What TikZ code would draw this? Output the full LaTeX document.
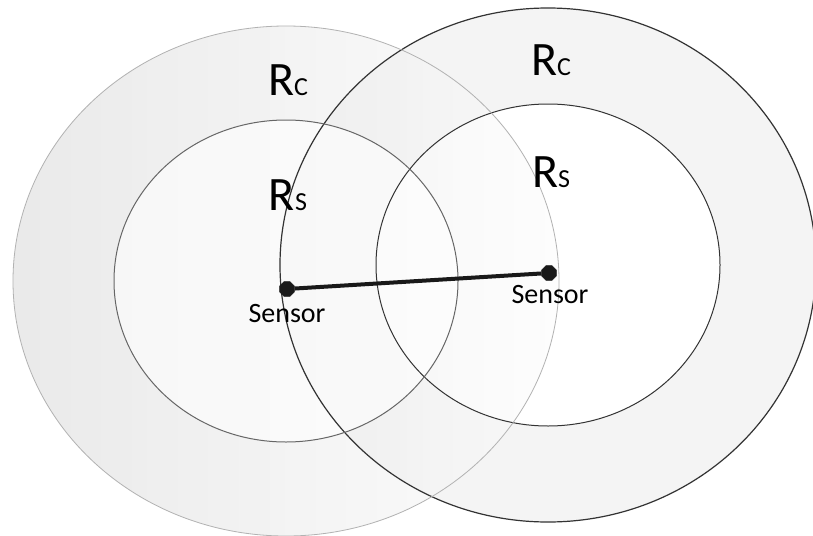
\documentclass[tikz,border=0pt]{standalone}
\usepackage{fontspec}
\setmainfont{Carlito}
\usetikzlibrary{shapes.geometric, positioning}
\tikzstyle{sensor} = [regular polygon, regular polygon sides=8, fill=black!90, draw=black!90, inner sep=0pt, minimum size=16pt]
\tikzstyle{link} = [draw, line width=4pt, black!90]
\tikzstyle{bigtext} = [anchor=base, inner sep=0pt, font=\fontsize{48}{56}\selectfont]
\tikzstyle{smalltext} = [anchor=base, inner sep=0pt, font=\fontsize{28}{32}\selectfont]
\newcommand{\subc}[1]{{\fontsize{26}{30}\selectfont #1}}

\begin{document}
\begin{tikzpicture}[x=1pt, y=-1pt]
  \useasboundingbox[fill=white] (0,0) rectangle (813,535);

  % Centres of the two ranges
  \coordinate (cl) at (286, 281);
  \coordinate (cr) at (548, 265);

  % Right sensor: communication and sensing range
  \fill[gray!9] (cr) ellipse [x radius=268, y radius=257];
  \fill[white] (cr) ellipse [x radius=172, y radius=161];

  % Left sensor: drawn over it, half transparent
  \shade[left color=gray!30, right color=gray!2, fill opacity=0.55]
    (cl) ellipse [x radius=273, y radius=255];
  \fill[white, fill opacity=0.6] (cl) ellipse [x radius=172, y radius=161];

  % Outlines
  \draw[black!80, line width=1.2pt] (cr) ellipse [x radius=268, y radius=257];
  \draw[black!80, line width=1pt] (cr) ellipse [x radius=172, y radius=161];
  \draw[black!30, line width=0.8pt] (cl) ellipse [x radius=273, y radius=255];
  \draw[black!60, line width=1pt] (cl) ellipse [x radius=172, y radius=161];

  % Labels
  \node[bigtext] (rcl) at (288, 95) {R\subc{C}};
  \node[bigtext] (rcr) at (551, 75) {R\subc{C}};
  \node[bigtext] (rsl) at (288, 210) {R\subc{S}};
  \node[bigtext] (rsr) at (551, 187) {R\subc{S}};

  % Sensors and link
  \node[sensor] (sl) at (287, 289) {};
  \node[sensor] (sr) at (549, 273) {};
  \path[link] (sl) -- (sr);

  \node[smalltext] (tl) at (287, 322) {Sensor};
  \node[smalltext] (tr) at (550, 303) {Sensor};
\end{tikzpicture}
\end{document}
